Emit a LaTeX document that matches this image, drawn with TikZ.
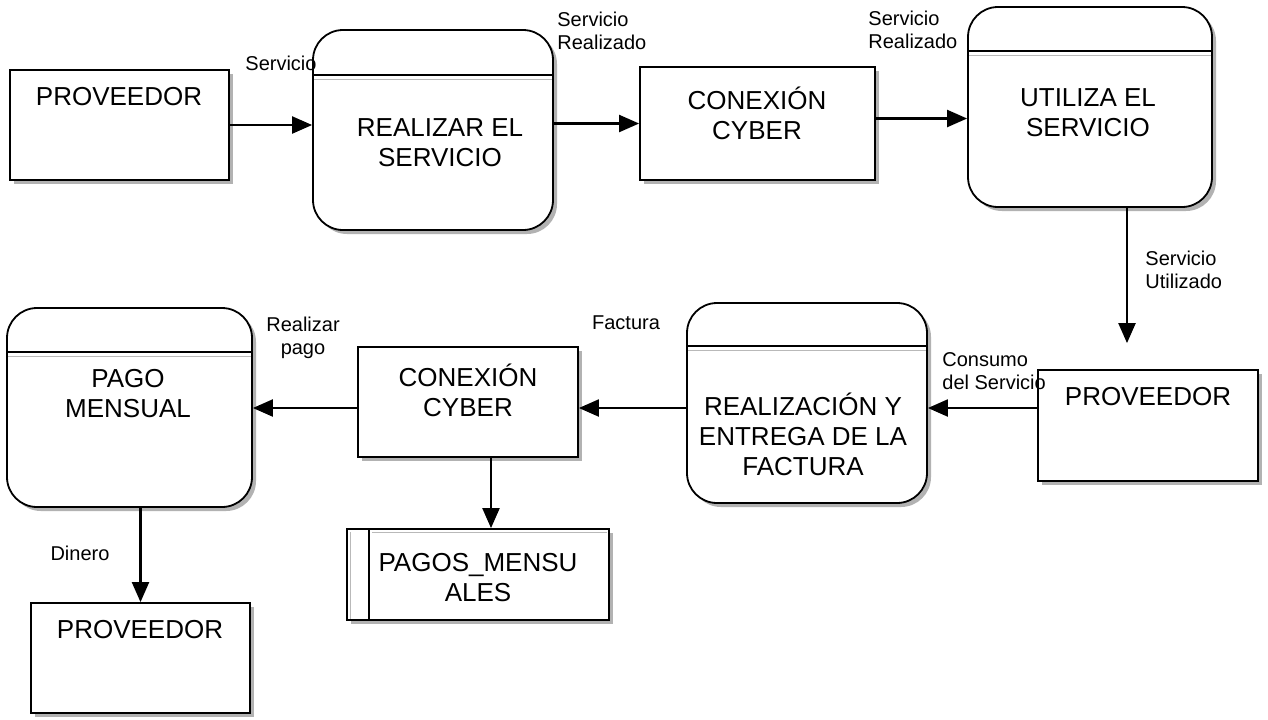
\documentclass[tikz,border=0pt]{standalone}
\usepackage{fontspec}
\setmainfont{Liberation Sans}
\usetikzlibrary{arrows.meta,shadows,calc}
\begin{document}
\begin{tikzpicture}[x=0.5pt,y=-0.5pt,
 shad/.style={drop shadow={shadow xshift=2pt,shadow yshift=-2pt,fill=gray!60,opacity=1}},
 entity/.style={draw=black,line width=0.9pt,fill=white,shad,inner sep=0pt},
 proc/.style={entity,rounded corners=15pt},
 store/.style={entity},
 txt/.style={font=\fontsize{13}{15}\selectfont,align=center,inner sep=0pt},
 lbl/.style={font=\fontsize{10}{11.5}\selectfont,align=left,inner sep=0pt},
 clbl/.style={lbl,align=center},
 flow/.style={line width=1.1pt,-{Triangle[length=10pt,width=8.5pt]}},
 sep/.style={line width=0.9pt},
 sepg/.style={line width=0.6pt,gray!55},
]
\useasboundingbox (0,0) rectangle (1268,719);

% entities
\node[entity,minimum width=109.5pt,minimum height=55pt] (P1) at (119.5,125) {};
\node[txt] (P1t) at (119,97) {PROVEEDOR};
\node[entity,minimum width=117.5pt,minimum height=56.5pt] (C1) at (757.5,123.5) {};
\node[txt] (C1t) at (757,113) {CONEXIÓN\\CYBER};
\node[entity,minimum width=110pt,minimum height=55.5pt] (P2) at (1148,425.5) {};
\node[txt] (P2t) at (1148,397) {PROVEEDOR};
\node[entity,minimum width=110pt,minimum height=55pt] (C2) at (468,402) {};
\node[txt] (C2t) at (468,390) {CONEXIÓN\\CYBER};
\node[entity,minimum width=109.5pt,minimum height=55pt] (P3) at (140.5,658) {};
\node[txt] (P3t) at (140,630) {PROVEEDOR};

% processes
\node[proc,minimum width=120pt,minimum height=100pt] (R1) at (433,130) {};
\node[txt] (R1t) at (440,143) {REALIZAR EL\\SERVICIO};
\node[proc,minimum width=122pt,minimum height=100pt] (U1) at (1090,107) {};
\node[txt] (U1t) at (1088,113) {UTILIZA EL\\SERVICIO};
\node[proc,minimum width=120pt,minimum height=100pt] (R2) at (807,403) {};
\node[txt] (R2t) at (803,434) {REALIZACIÓN Y\\ENTREGA DE LA\\FACTURA};
\node[proc,minimum width=122.5pt,minimum height=99.5pt] (PM) at (129.5,407.5) {};
\node[txt] (PMt) at (128,394) {PAGO\\MENSUAL};

\foreach \n/\d in {R1/46,U1/45,R2/44,PM/45}{
  \draw[sep] ($(\n.north west)+(0,\d)$) -- ($(\n.north east)+(0,\d)$);
  \draw[sepg] ($(\n.north west)+(2,\d+4)$) -- ($(\n.north east)+(-2,\d+4)$);
}

% data store
\node[store,minimum width=131pt,minimum height=45.5pt] (DS) at (478,574.5) {};
\draw[sep] ($(DS.north west)+(23,0)$) -- ($(DS.south west)+(23,0)$);
\draw[sepg] ($(DS.north west)+(4,4)$) -- ($(DS.south west)+(4,-2)$);
\draw[sepg] ($(DS.north west)+(26,4)$) -- ($(DS.north east)+(-3,4)$);
\node[txt] (DSt) at (478,578) {PAGOS\_MENSU\\ALES};

% connector points
\coordinate (u1s) at ($(U1.south)+(37,0)$);
\coordinate (u1e) at ($(u1s |- P2.north)+(0,-26)$);
\coordinate (c2s) at ($(C2.south)+(23,0)$);

% flows
\draw[flow] (P1.east) -- (P1.east -| R1.west);
\draw[flow] (R1.east |- C1.west) -- (C1.west);
\draw[flow] ($(C1.east)+(0,-5)$) -- ($(C1.east -| U1.west)+(0,-5)$);
\draw[flow] (u1s) -- (u1e);
\draw[flow] ($(P2.west)+(0,-17.5)$) -- ($(P2.west -| R2.east)+(0,-17.5)$);
\draw[flow] ($(R2.west)+(0,5)$) -- ($(R2.west -| C2.east)+(0,5)$);
\draw[flow] ($(C2.west)+(0,6)$) -- ($(C2.west -| PM.east)+(0,6)$);
\draw[flow] (PM.south -| P3.north) -- (P3.north);
\draw[flow] (c2s) -- (c2s |- DS.north);

% labels
\node[lbl] (l1) at (281,63) {Servicio};
\node[lbl,anchor=west] (l2) at (557,31) {Servicio\\Realizado};
\node[lbl,anchor=west] (l3) at (868,30) {Servicio\\Realizado};
\node[lbl,anchor=west] (l4) at (1145,270) {Servicio\\Utilizado};
\node[lbl,anchor=west] (l5) at (942,371) {Consumo\\del Servicio};
\node[lbl] (l6) at (626,323) {Factura};
\node[clbl] (l7) at (303,338) {Realizar\\pago};
\node[lbl] (l8) at (80,553) {Dinero};
\end{tikzpicture}
\end{document}
